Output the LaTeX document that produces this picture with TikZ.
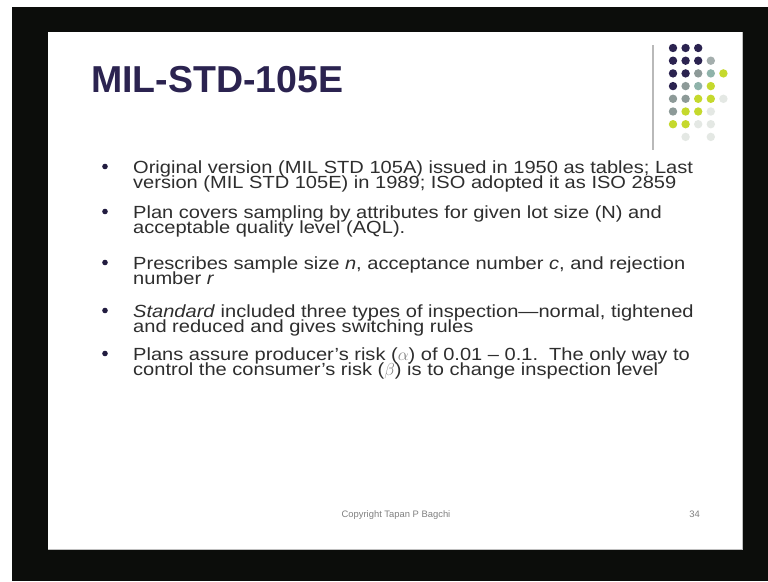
\documentclass[tikz,border=0pt]{standalone}
\usepackage{fontspec}
\setmainfont{Liberation Sans}
\newfontfamily\wideface[FakeStretch=1.14,Ligatures=TeX]{Liberation Sans}
\usetikzlibrary{positioning}

\definecolor{frame}{HTML}{0C0D0B}
\definecolor{navy}{HTML}{2B2350}
\definecolor{dgray}{HTML}{8D9A98}
\definecolor{dteal}{HTML}{8FB3AA}
\definecolor{dyel}{HTML}{C5D92D}
\definecolor{dfaint}{HTML}{E4E8E4}
\definecolor{txt}{HTML}{2E2E2E}

\begin{document}
\begin{tikzpicture}[x=1pt,y=-1pt,
  line/.style={anchor=base west,inner sep=0pt,text=txt,
    font=\wideface\fontsize{17.6}{20}\selectfont},
  foot/.style={anchor=base,inner sep=0pt,text=gray,
    font=\fontsize{9.4}{11}\selectfont}]
  \useasboundingbox (0,0) rectangle (768,581);

  \fill[frame] (12,7) rectangle (768,581);
  \fill[white] (48,32) rectangle (742,549);
  \draw[gray!50,line width=0.8pt] (48,549) -- (742,549) -- (742,32);

  % dot grid
  \draw[gray!55,line width=1.2pt] (653,45) -- (653,150);
  \foreach \c/\r/\col in {1/1/navy,2/1/navy,3/1/navy,
      1/2/navy,2/2/navy,3/2/navy,4/2/dgray!80,
      1/3/navy,2/3/navy,3/3/dgray,4/3/dteal,5/3/dyel,
      1/4/navy,2/4/dgray,3/4/dteal,4/4/dyel,
      1/5/dgray,2/5/dgray,3/5/dyel,4/5/dyel,5/5/dfaint,
      1/6/dgray,2/6/dyel,3/6/dyel,4/6/dfaint,
      1/7/dyel,2/7/dyel,3/7/dfaint,4/7/dfaint,
      2/8/dfaint,4/8/dfaint}
    \fill[\col] ({660.4+12.6*\c},{35.3+12.7*\r}) circle (4.2);

  \node[anchor=base west,inner sep=0pt,text=navy,
    font=\fontsize{37.5}{40}\selectfont\bfseries] (title) at (91,92) {MIL-STD-105E};

  \node[line] (b1a) at (133,173) {Original version (MIL STD 105A) issued in 1950 as tables; Last};
  \node[line] (b1b) at (133,188) {version (MIL STD 105E) in 1989; ISO adopted it as ISO 2859};
  \node[line] (b2a) at (133,218) {Plan covers sampling by attributes for given lot size (N) and};
  \node[line] (b2b) at (133,233) {acceptable quality level (AQL).};
  \node[line] (b3a) at (133,269) {Prescribes sample size \textit{n}, acceptance number \textit{c}, and rejection};
  \node[line] (b3b) at (133,284) {number \textit{r}};
  \node[line] (b4a) at (133,317) {\textit{Standard} included three types of inspection---normal, tightened};
  \node[line] (b4b) at (133,332) {and reduced and gives switching rules};
  \node[line] (b5a) at (133,360) {Plans assure producer's risk (\textcolor{gray}{$\alpha$}) of 0.01 -- 0.1.\ \ The only way to};
  \node[line] (b5b) at (133,375) {control the consumer's risk (\textcolor{gray}{$\beta$}) is to change inspection level};

  \foreach \b in {b1a,b2a,b3a,b4a,b5a}
    \fill[navy!80!black] ([xshift=-28pt,yshift=6.5pt]\b.base west) circle (2.8);

  \node[foot] (copy) at (396,517) {Copyright Tapan P Bagchi};
  \node[foot,anchor=base east] (page) at (700,517) {34};
\end{tikzpicture}
\end{document}
